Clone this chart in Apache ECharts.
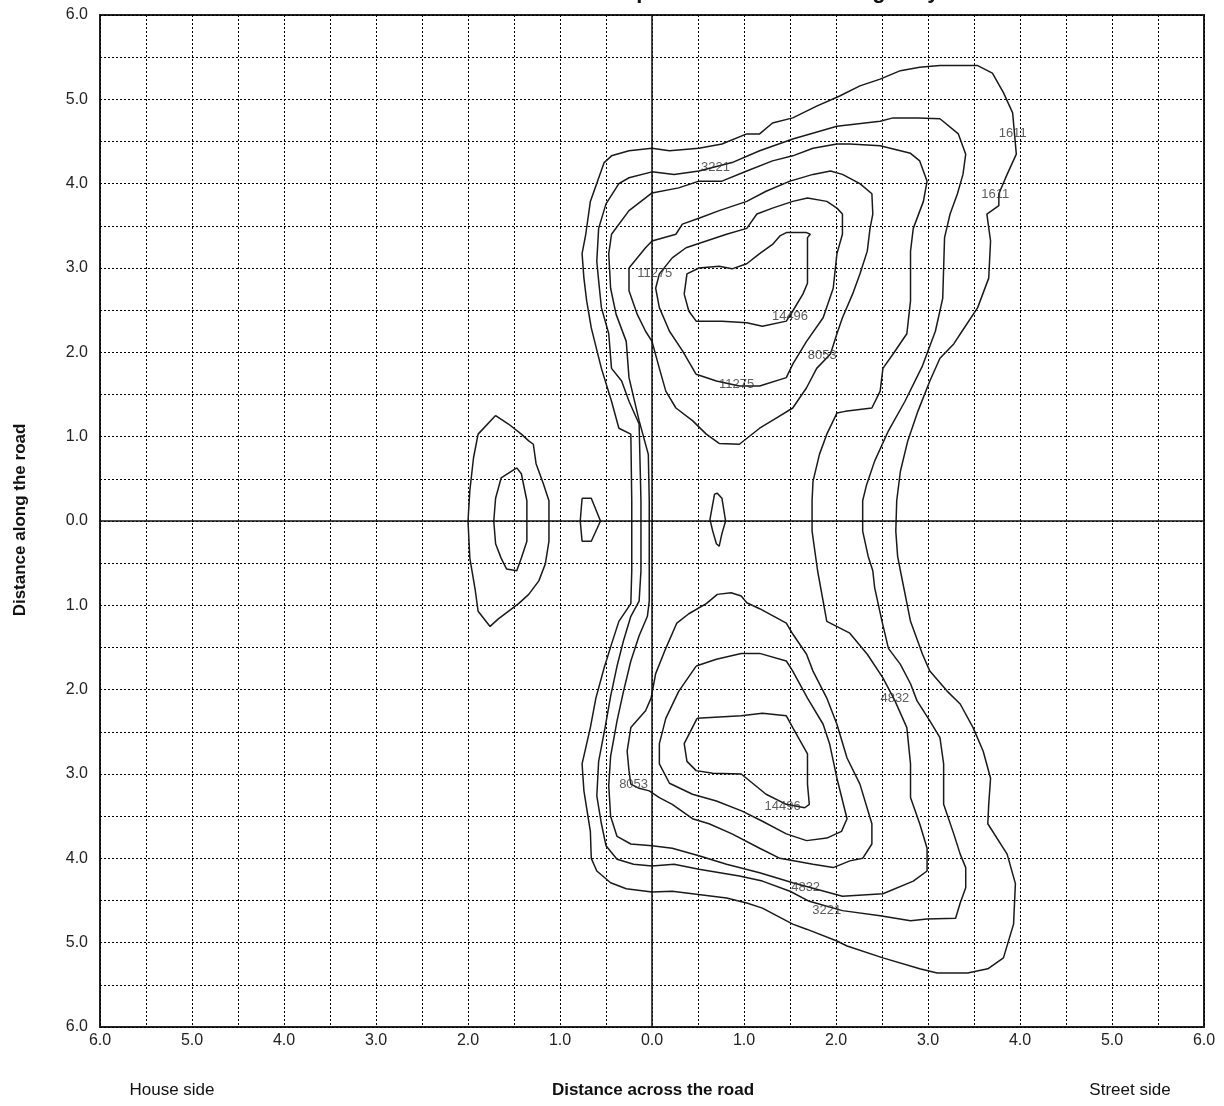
<!DOCTYPE html>
<html><head><meta charset="utf-8">
<script src="https://cdn.jsdelivr.net/npm/echarts@6/dist/echarts.min.js"></script>
<style>html,body{margin:0;padding:0;background:#fff}#c{width:1224px;height:1106px}</style>
</head><body><div id="c"></div>
<script>
// ---------- texts ----------
const titleText = 'Contour of wheel positions on the carriageway';
const xAxisTitle = 'Distance across the road';
const yAxisTitle = 'Distance along the road';
const leftSideLabel = 'House side';
const rightSideLabel = 'Street side';

// ---------- axis ticks (signed positions, labels shown as absolute values) ----------
const axisMin = -6, axisMax = 6, gridStep = 0.5;
const tickValues = [-6,-5,-4,-3,-2,-1,0,1,2,3,4,5,6];

// ---------- contour lines [across, along] ----------
const contour1611 = [[-0.22,0.24],[-0.23,1.03],[-0.36,1.10],[-0.44,1.42],[-0.55,1.81],[-0.66,2.29],[-0.71,2.61],[-0.74,2.88],[-0.76,3.17],[-0.72,3.40],[-0.67,3.79],[-0.52,4.25],[-0.44,4.33],[-0.25,4.39],[0,4.42],[0.19,4.39],[0.51,4.42],[0.76,4.47],[1.03,4.59],[1.17,4.59],[1.31,4.72],[1.53,4.78],[1.79,4.92],[2.04,5.04],[2.26,5.16],[2.48,5.24],[2.70,5.34],[2.91,5.38],[3.13,5.40],[3.54,5.40],[3.70,5.31],[3.82,5.08],[3.92,4.84],[3.96,4.35],[3.86,4.11],[3.77,3.88],[3.77,3.74],[3.64,3.64],[3.68,3.32],[3.66,2.88],[3.54,2.53],[3.37,2.25],[3.28,2.10],[3.13,1.93],[3.02,1.66],[2.89,1.30],[2.78,0.95],[2.70,0.59],[2.66,0.24],[2.65,-0.12],[2.67,-0.42],[2.70,-0.59],[2.81,-1.19],[2.94,-1.58],[3.02,-1.78],[3.21,-2.02],[3.35,-2.17],[3.49,-2.45],[3.60,-2.73],[3.68,-3.05],[3.66,-3.36],[3.65,-3.59],[3.86,-3.95],[3.95,-4.30],[3.93,-4.78],[3.82,-5.18],[3.65,-5.31],[3.43,-5.36],[3.10,-5.36],[2.91,-5.31],[2.51,-5.18],[2.12,-5.04],[2.01,-4.98],[1.68,-4.84],[1.53,-4.78],[1.20,-4.59],[1.03,-4.53],[0.81,-4.47],[0.22,-4.39],[0,-4.40],[-0.28,-4.36],[-0.45,-4.29],[-0.60,-4.15],[-0.66,-4.00],[-0.67,-3.68],[-0.74,-3.20],[-0.76,-2.88],[-0.67,-2.45],[-0.61,-2.10],[-0.52,-1.74],[-0.44,-1.46],[-0.36,-1.19],[-0.23,-0.98],[-0.22,-0.59],[-0.22,0.24]];

const contour3221 = [[-0.12,0.24],[-0.14,1.15],[-0.25,1.42],[-0.33,1.66],[-0.44,1.81],[-0.47,2.22],[-0.55,2.53],[-0.58,2.85],[-0.60,3.08],[-0.58,3.47],[-0.50,3.76],[-0.36,4.00],[-0.25,4.07],[0,4.14],[0.24,4.11],[0.51,4.15],[0.87,4.25],[1.17,4.39],[1.53,4.53],[2.01,4.68],[2.48,4.74],[2.62,4.78],[2.89,4.78],[3.13,4.77],[3.33,4.59],[3.41,4.35],[3.38,4.11],[3.32,3.88],[3.24,3.64],[3.18,3.36],[3.17,3.00],[3.16,2.64],[3.08,2.25],[2.94,1.84],[2.75,1.42],[2.57,1.07],[2.42,0.71],[2.33,0.42],[2.29,0.24],[2.29,-0.12],[2.35,-0.42],[2.40,-0.59],[2.42,-0.79],[2.50,-1.19],[2.57,-1.51],[2.70,-1.70],[2.81,-1.93],[2.88,-2.13],[3.02,-2.37],[3.13,-2.57],[3.17,-2.88],[3.17,-3.36],[3.28,-3.71],[3.35,-3.95],[3.41,-4.11],[3.41,-4.35],[3.35,-4.53],[3.30,-4.71],[2.99,-4.72],[2.81,-4.74],[2.48,-4.68],[2.07,-4.62],[1.71,-4.51],[1.50,-4.39],[1.20,-4.27],[0.95,-4.21],[0.51,-4.13],[0.24,-4.07],[0,-4.09],[-0.20,-4.07],[-0.38,-4.01],[-0.50,-3.85],[-0.55,-3.59],[-0.60,-3.26],[-0.58,-2.85],[-0.51,-2.45],[-0.45,-2.08],[-0.38,-1.72],[-0.31,-1.42],[-0.23,-1.13],[-0.14,-0.95],[-0.12,-0.59],[-0.12,0.24]];

const contour4832 = [[-0.03,0.24],[-0.04,0.79],[-0.14,1.19],[-0.25,1.70],[-0.28,2.13],[-0.39,2.45],[-0.45,2.76],[-0.47,3.17],[-0.44,3.40],[-0.25,3.68],[0,3.89],[0.29,3.95],[0.51,4.03],[0.76,4.03],[1.03,4.15],[1.31,4.27],[1.53,4.33],[1.75,4.42],[2.01,4.47],[2.15,4.47],[2.48,4.45],[2.81,4.36],[2.91,4.27],[2.99,4.03],[2.95,3.79],[2.84,3.47],[2.81,3.20],[2.81,2.61],[2.77,2.22],[2.62,1.98],[2.51,1.81],[2.48,1.54],[2.39,1.34],[2.10,1.30],[2.01,1.28],[1.90,1.03],[1.82,0.79],[1.75,0.47],[1.74,0.24],[1.74,-0.12],[1.80,-0.59],[1.90,-1.19],[2.15,-1.33],[2.34,-1.58],[2.51,-1.86],[2.64,-2.13],[2.77,-2.45],[2.81,-2.88],[2.81,-3.28],[2.91,-3.59],[2.99,-3.88],[2.99,-4.15],[2.84,-4.27],[2.51,-4.42],[2.07,-4.45],[1.53,-4.29],[1.17,-4.17],[0.81,-4.07],[0.51,-3.97],[0.22,-3.88],[0,-3.85],[-0.23,-3.83],[-0.38,-3.74],[-0.45,-3.50],[-0.47,-3.14],[-0.45,-2.79],[-0.38,-2.37],[-0.31,-2.02],[-0.23,-1.66],[-0.14,-1.36],[-0.05,-1.13],[-0.03,-0.95],[-0.03,-0.59],[-0.03,0.24]];

const contour8053Upper = [[-0.25,3.00],[-0.07,3.24],[0,3.32],[0.26,3.40],[0.33,3.52],[0.51,3.59],[0.73,3.68],[1.03,3.79],[1.24,3.91],[1.50,4.03],[1.75,4.11],[1.94,4.15],[2.07,4.11],[2.26,4.00],[2.39,3.88],[2.40,3.64],[2.37,3.47],[2.34,3.20],[2.26,2.93],[2.18,2.69],[2.07,2.41],[2.01,2.22],[1.94,1.98],[1.79,1.81],[1.68,1.58],[1.53,1.34],[1.35,1.22],[1.17,1.10],[0.95,0.91],[0.73,0.92],[0.59,1.03],[0.44,1.19],[0.26,1.34],[0.15,1.54],[0.08,1.81],[0,2.13],[-0.07,2.25],[-0.16,2.45],[-0.25,2.73],[-0.25,3.00]];
const contour8053Lower = [[0.71,-0.87],[0.86,-0.85],[0.97,-0.89],[1.03,-0.97],[1.17,-1.04],[1.46,-1.21],[1.53,-1.34],[1.68,-1.58],[1.75,-1.78],[1.90,-2.10],[2.01,-2.41],[2.12,-2.81],[2.26,-3.12],[2.39,-3.59],[2.39,-3.83],[2.29,-4.00],[2.15,-4.03],[1.97,-4.11],[1.75,-4.07],[1.39,-4.00],[1.17,-3.88],[0.87,-3.71],[0.62,-3.59],[0.44,-3.53],[0.22,-3.36],[0.08,-3.28],[-0.03,-3.20],[-0.14,-3.17],[-0.23,-3.12],[-0.25,-2.96],[-0.27,-2.73],[-0.23,-2.45],[-0.07,-2.25],[-0.01,-2.10],[0.04,-1.81],[0.15,-1.51],[0.27,-1.21],[0.40,-1.10],[0.59,-0.98],[0.71,-0.87]];

const contour11275Upper = [[0.48,1.74],[0.70,1.66],[0.95,1.60],[1.17,1.60],[1.46,1.70],[1.53,1.86],[1.68,2.13],[1.86,2.41],[1.97,2.76],[2.01,3.17],[2.07,3.40],[2.07,3.64],[2.01,3.71],[1.90,3.79],[1.69,3.83],[1.53,3.79],[1.31,3.71],[1.14,3.64],[1.03,3.47],[0.81,3.40],[0.59,3.32],[0.37,3.24],[0.22,3.12],[0.08,2.93],[0.04,2.76],[0.08,2.53],[0.19,2.25],[0.33,2.02],[0.48,1.74]];
const contour11275Lower = [[0.48,-1.72],[0.70,-1.64],[0.97,-1.57],[1.17,-1.57],[1.46,-1.66],[1.53,-1.78],[1.69,-2.10],[1.86,-2.41],[1.93,-2.64],[2.01,-3.05],[2.12,-3.53],[2.06,-3.68],[1.90,-3.76],[1.68,-3.79],[1.46,-3.71],[1.20,-3.56],[0.98,-3.44],[0.70,-3.32],[0.44,-3.24],[0.19,-3.11],[0.08,-2.88],[0.08,-2.64],[0.15,-2.34],[0.29,-2.02],[0.48,-1.72]];

const contour14496Upper = [[0.35,2.69],[0.38,2.93],[0.51,3.00],[0.73,3.02],[0.87,2.99],[1.03,3.05],[1.17,3.17],[1.31,3.28],[1.39,3.38],[1.46,3.42],[1.68,3.42],[1.72,3.40],[1.69,3.36],[1.69,2.82],[1.64,2.69],[1.53,2.49],[1.46,2.37],[1.20,2.31],[1.03,2.35],[0.76,2.37],[0.48,2.37],[0.40,2.49],[0.35,2.69]];
const contour14496Lower = [[0.49,-2.34],[0.97,-2.31],[1.20,-2.28],[1.46,-2.31],[1.53,-2.45],[1.69,-2.76],[1.69,-3.12],[1.71,-3.36],[1.66,-3.40],[1.46,-3.36],[1.24,-3.24],[0.97,-3.00],[0.66,-2.99],[0.48,-2.96],[0.38,-2.85],[0.35,-2.64],[0.49,-2.34]];

const islandHouseOuter = [[-1.70,1.25],[-1.56,1.15],[-1.42,1.03],[-1.34,0.95],[-1.29,0.91],[-1.26,0.68],[-1.18,0.44],[-1.12,0.24],[-1.12,0],[-1.12,-0.24],[-1.16,-0.51],[-1.23,-0.71],[-1.34,-0.87],[-1.45,-0.98],[-1.67,-1.16],[-1.76,-1.25],[-1.89,-1.07],[-1.92,-0.83],[-1.98,-0.44],[-2.00,0],[-1.98,0.36],[-1.94,0.75],[-1.89,1.03],[-1.70,1.25]];
const islandHouseInner = [[-1.47,0.63],[-1.64,0.51],[-1.70,0.27],[-1.72,0],[-1.70,-0.27],[-1.64,-0.44],[-1.58,-0.57],[-1.47,-0.59],[-1.42,-0.44],[-1.36,-0.24],[-1.36,0],[-1.36,0.24],[-1.42,0.56],[-1.47,0.63]];
const islandMiddle = [[-0.76,0.27],[-0.66,0.27],[-0.56,0],[-0.66,-0.24],[-0.76,-0.24],[-0.78,0],[-0.76,0.27]];
const islandStreet = [[0.68,0.32],[0.71,0.33],[0.76,0.27],[0.80,0],[0.76,-0.15],[0.73,-0.30],[0.70,-0.27],[0.66,-0.12],[0.63,0.02],[0.66,0.20],[0.68,0.32]];

// ---------- contour level labels ----------
const labelAcross = [3.92, 3.73, 0.69, 0.03, 1.50, 1.85, 0.92, 2.64, -0.20, 1.42, 1.67, 1.90];
const labelAlong  = [4.59, 3.87, 4.19, 2.93, 2.43, 1.96, 1.62, -2.10, -3.12, -3.38, -4.35, -4.62];
const labelText   = ['1611','1611','3221','11275','14496','8053','11275','4832','8053','14496','4832','3221'];

const contours = [contour1611, contour3221, contour4832, contour8053Upper, contour8053Lower,
  contour11275Upper, contour11275Lower, contour14496Upper, contour14496Lower,
  islandHouseOuter, islandHouseInner, islandMiddle, islandStreet];

const FONT = '"Liberation Sans", Arial, sans-serif';
const chart = echarts.init(document.getElementById('c'), null, {renderer: 'canvas'});

const fmt = v => (Math.abs(v - Math.round(v)) < 1e-9 && tickValues.indexOf(Math.round(v)) >= 0) ? Math.abs(v).toFixed(1) : '';
const gridLine = {show: true, lineStyle: {color: '#000', width: 1, type: [2, 2]}};

const series = contours.map((c, i) => ({
  type: 'line', data: c, symbol: 'none', smooth: false, silent: true,
  lineStyle: {color: '#1a1a1a', width: 1.5}, z: 3,
  markLine: i === 0 ? {
    silent: true, symbol: 'none', label: {show: false},
    lineStyle: {color: '#111', width: 1.5, type: 'solid'},
    data: [{xAxis: 0}, {yAxis: 0}]
  } : undefined
}));
series.push({
  type: 'scatter', symbolSize: 0, silent: true, z: 5,
  data: labelText.map((t, i) => ({name: t, value: [labelAcross[i], labelAlong[i]]})),
  label: {show: true, position: 'inside', formatter: '{b}', color: '#333', fontSize: 13, fontFamily: FONT}
});

chart.setOption({
  animation: false,
  backgroundColor: '#fff',
  grid: {left: 100, right: 20, top: 15, bottom: 79, show: true, borderColor: '#222', borderWidth: 2, backgroundColor: 'transparent'},
  xAxis: {type: 'value', min: axisMin, max: axisMax, interval: gridStep,
    axisLine: {show: false}, axisTick: {show: false}, splitLine: gridLine,
    axisLabel: {formatter: fmt, color: '#222', fontSize: 16, fontFamily: FONT, margin: 6, showMinLabel: true, showMaxLabel: true}},
  yAxis: {type: 'value', min: axisMin, max: axisMax, interval: gridStep,
    axisLine: {show: false}, axisTick: {show: false}, splitLine: gridLine,
    axisLabel: {formatter: fmt, color: '#222', fontSize: 16, fontFamily: FONT, margin: 12, showMinLabel: true, showMaxLabel: true}},
  series: series,
  graphic: [
    {type: 'text', x: 695, y: -19, style: {text: titleText, font: 'bold 22px ' + FONT, fill: '#111', textAlign: 'center', textVerticalAlign: 'top'}, z: 10},
    {type: 'text', x: 20, y: 520, rotation: Math.PI / 2, style: {text: yAxisTitle, font: 'bold 17px ' + FONT, fill: '#111', textAlign: 'center', textVerticalAlign: 'middle'}},
    {type: 'text', x: 653, y: 1090, style: {text: xAxisTitle, font: 'bold 17px ' + FONT, fill: '#111', textAlign: 'center', textVerticalAlign: 'middle'}},
    {type: 'text', x: 172, y: 1090, style: {text: leftSideLabel, font: '17px ' + FONT, fill: '#111', textAlign: 'center', textVerticalAlign: 'middle'}},
    {type: 'text', x: 1130, y: 1090, style: {text: rightSideLabel, font: '17px ' + FONT, fill: '#111', textAlign: 'center', textVerticalAlign: 'middle'}}
  ]
});
</script></body></html>
